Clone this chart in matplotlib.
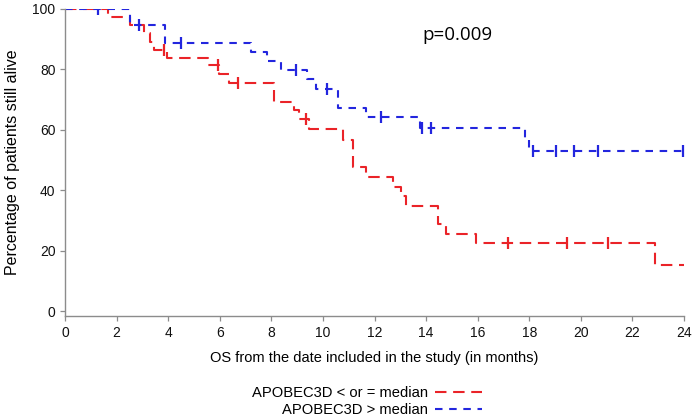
import matplotlib
matplotlib.use("Agg")
import matplotlib.pyplot as plt
import numpy as np

# Kaplan-Meier steps (months, % alive)
low_times = [0, 1.68, 2.5, 3.05, 3.3, 3.45, 3.95, 5.55, 5.95, 6.34, 8.12, 8.89, 9.09, 9.45,
             10.77, 11.16, 11.68, 12.71, 13.04, 13.23, 14.46, 14.78, 15.95, 22.87, 24]
low_surv = [100, 97.4, 94.7, 91.9, 89.2, 86.5, 83.7, 81.5, 78.5, 75.6, 69.3, 66.5, 63.5, 60.3,
            56.8, 47.6, 44.3, 41.2, 38.1, 34.8, 28.7, 25.6, 22.4, 15.2, 15.2]
low_cens = [3.85, 5.92, 6.69, 9.35, 17.18, 19.45, 21.06]

high_times = [0, 2.5, 3.88, 7.21, 7.85, 8.37, 9.4, 9.73, 10.6, 11.68, 13.75, 17.83, 17.98, 24]
high_surv = [100, 94.7, 88.6, 85.9, 82.8, 79.8, 76.7, 73.6, 67.1, 64.1, 60.6, 56.9, 53.1, 53.1]
high_cens = [1.26, 2.85, 4.49, 8.96, 10.15, 12.26, 13.85, 14.2, 18.15, 19.03, 19.74, 20.67, 23.97]

labels = ['APOBEC3D < or = median', 'APOBEC3D > median']
xticks = list(range(0, 25, 2))
yticks = [0, 20, 40, 60, 80, 100]
p_text = 'p=0.009'

red = '#ea2328'
blue = '#2326de'


def step_value(times, surv, t):
    idx = np.searchsorted(times, t, side='right') - 1
    return surv[idx]


fig = plt.figure(figsize=(7.0, 4.18), dpi=100)
ax = fig.add_axes([0.093, 0.244, 0.884, 0.7345])

l1, = ax.step(low_times, low_surv, where='post', color=red, lw=1.5, dashes=(5.5, 3.2), label=labels[0])
l2, = ax.step(high_times, high_surv, where='post', color=blue, lw=1.5, dashes=(3.6, 3.2), label=labels[1])

ax.plot(low_cens, [step_value(low_times, low_surv, t) for t in low_cens], ls='none',
        marker='|', ms=8, mew=1.6, color=red)
ax.plot(high_cens, [step_value(high_times, high_surv, t) for t in high_cens], ls='none',
        marker='|', ms=8, mew=1.6, color=blue)

ax.set_xlim(0, 24)
ax.set_ylim(-1.6, 100)
ax.set_xticks(xticks)
ax.set_yticks(yticks)
for s in ['top', 'right']:
    ax.spines[s].set_visible(False)
for s in ['left', 'bottom']:
    ax.spines[s].set_color('#8c8c8c')
    ax.spines[s].set_linewidth(1.0)
ax.tick_params(direction='out', length=3.5, width=0.9, color='#8c8c8c',
               labelsize=10, labelcolor='#111111')
for lab in ax.get_xticklabels() + ax.get_yticklabels():
    lab.set_family('Liberation Sans')

ax.set_xlabel('OS from the date included in the study (in months)', family='Liberation Sans',
              fontsize=10.5, labelpad=8)
ax.set_ylabel('Percentage of patients still alive', family='Liberation Sans',
              fontsize=11.5, labelpad=9)

ax.text(15.2, 91.5, p_text, family='Open Sans', fontsize=13.5, ha='center', va='center')

fig.legend(handles=[l1, l2], loc='center', bbox_to_anchor=(0.524, 0.0395), frameon=False,
           markerfirst=False, handlelength=3.2, handletextpad=0.5, labelspacing=0.18,
           borderpad=0, borderaxespad=0, prop={'family': 'Liberation Sans', 'size': 10.6})

fig.savefig('out.png', dpi=100)
